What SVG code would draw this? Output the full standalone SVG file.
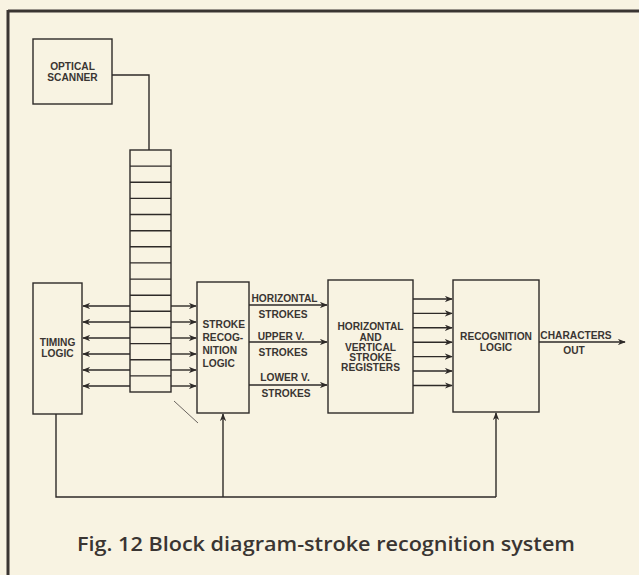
<svg xmlns="http://www.w3.org/2000/svg" width="639" height="575" viewBox="0 0 639 575">
<style>
.box{fill:none;stroke:#2e2a28;stroke-width:1.4}
.ln{fill:none;stroke:#2e2a28;stroke-width:1.4}
.t{font-family:"Liberation Sans",Arial,sans-serif;font-size:10.2px;font-weight:bold;fill:#3a3532}
.c{text-anchor:middle}
.cap{font-family:"Open Sans","Liberation Sans",sans-serif;font-size:19px;font-weight:600;fill:#3a3532}
</style>
<defs>
<marker id="ah" viewBox="0 0 10 8" refX="9" refY="4" markerWidth="8" markerHeight="6.4" markerUnits="userSpaceOnUse" orient="auto">
<path d="M0,0 L10,4 L0,8 L3,4 Z" fill="#2e2a28"/>
</marker>
</defs>
<rect width="639" height="575" fill="#f8f3e2"/>
<g id="frame">
<line x1="8" y1="11" x2="639" y2="11" stroke="#3a3532" stroke-width="3"/>
<line x1="8" y1="10" x2="8" y2="575" stroke="#3a3532" stroke-width="3"/>
</g>
<g id="scanner">
<rect class="box" x="33" y="39" width="79" height="65"/>
<text class="t c" x="72.5" y="69.5">OPTICAL</text>
<text class="t c" x="72.5" y="80.5">SCANNER</text>
</g>
<g id="register">
<rect class="box" x="130" y="150" width="41" height="242"/>
<path class="ln" d="M130,166.1H171M130,182.3H171M130,198.4H171M130,214.5H171M130,230.7H171M130,246.8H171M130,262.9H171M130,279.1H171M130,295.2H171M130,311.3H171M130,327.5H171M130,343.6H171M130,359.7H171M130,375.9H171"/>
</g>
<g id="timing">
<rect class="box" x="33" y="283" width="49" height="131"/>
<text class="t c" x="57.5" y="345.5">TIMING</text>
<text class="t c" x="57.5" y="356.5">LOGIC</text>
</g>
<g id="stroke">
<rect class="box" x="197" y="282" width="52" height="131"/>
<text class="t" x="202.5" y="328">STROKE</text>
<text class="t" x="202.5" y="341">RECOG-</text>
<text class="t" x="202.5" y="354">NITION</text>
<text class="t" x="202.5" y="367">LOGIC</text>
</g>
<g id="registers">
<rect class="box" x="328" y="280" width="85" height="133"/>
<text class="t c" x="370.5" y="330">HORIZONTAL</text>
<text class="t c" x="370.5" y="340.5">AND</text>
<text class="t c" x="370.5" y="350.5">VERTICAL</text>
<text class="t c" x="370.5" y="361">STROKE</text>
<text class="t c" x="370.5" y="371">REGISTERS</text>
</g>
<g id="recognition">
<rect class="box" x="453" y="280" width="86" height="132"/>
<text class="t c" x="496" y="339.5">RECOGNITION</text>
<text class="t c" x="496" y="350.5">LOGIC</text>
</g>
<g id="connectors">
<path class="ln" d="M112,75H149V150"/>
<line class="ln" x1="130" y1="306" x2="83" y2="306" marker-end="url(#ah)"/>
<line class="ln" x1="130" y1="322" x2="83" y2="322" marker-end="url(#ah)"/>
<line class="ln" x1="130" y1="338" x2="83" y2="338" marker-end="url(#ah)"/>
<line class="ln" x1="130" y1="354" x2="83" y2="354" marker-end="url(#ah)"/>
<line class="ln" x1="130" y1="370" x2="83" y2="370" marker-end="url(#ah)"/>
<line class="ln" x1="130" y1="386" x2="83" y2="386" marker-end="url(#ah)"/>
<line class="ln" x1="171" y1="306" x2="196" y2="306" marker-end="url(#ah)"/>
<line class="ln" x1="171" y1="322" x2="196" y2="322" marker-end="url(#ah)"/>
<line class="ln" x1="171" y1="338" x2="196" y2="338" marker-end="url(#ah)"/>
<line class="ln" x1="171" y1="354" x2="196" y2="354" marker-end="url(#ah)"/>
<line class="ln" x1="171" y1="370" x2="196" y2="370" marker-end="url(#ah)"/>
<line class="ln" x1="171" y1="386" x2="196" y2="386" marker-end="url(#ah)"/>
<line x1="174" y1="401" x2="198" y2="423" stroke="#5a5450" stroke-width="0.9"/>
<line class="ln" x1="249" y1="305" x2="327" y2="305" marker-end="url(#ah)"/>
<line class="ln" x1="249" y1="342" x2="327" y2="342" marker-end="url(#ah)"/>
<line class="ln" x1="249" y1="385" x2="327" y2="385" marker-end="url(#ah)"/>
<text class="t" x="251.5" y="301.5">HORIZONTAL</text>
<text class="t c" x="283" y="317.5">STROKES</text>
<text class="t c" x="281" y="340">UPPER V.</text>
<text class="t c" x="283" y="355.5">STROKES</text>
<text class="t c" x="285" y="381">LOWER V.</text>
<text class="t c" x="286" y="396.5">STROKES</text>
<line class="ln" x1="413" y1="299" x2="452" y2="299" marker-end="url(#ah)"/>
<line class="ln" x1="413" y1="313.4" x2="452" y2="313.4" marker-end="url(#ah)"/>
<line class="ln" x1="413" y1="327.8" x2="452" y2="327.8" marker-end="url(#ah)"/>
<line class="ln" x1="413" y1="342.2" x2="452" y2="342.2" marker-end="url(#ah)"/>
<line class="ln" x1="413" y1="356.6" x2="452" y2="356.6" marker-end="url(#ah)"/>
<line class="ln" x1="413" y1="371" x2="452" y2="371" marker-end="url(#ah)"/>
<line class="ln" x1="413" y1="385.5" x2="452" y2="385.5" marker-end="url(#ah)"/>
<line class="ln" x1="539" y1="342" x2="625" y2="342" marker-end="url(#ah)"/>
<text class="t c" x="576" y="338.5">CHARACTERS</text>
<text class="t c" x="574" y="354">OUT</text>
<path class="ln" d="M56,414V497H496"/>
<line class="ln" x1="223" y1="497" x2="223" y2="414" marker-end="url(#ah)"/>
<line class="ln" x1="496" y1="497" x2="496" y2="413" marker-end="url(#ah)"/>
</g>
<text class="cap" x="77" y="551" textLength="498" lengthAdjust="spacingAndGlyphs">Fig. 12 Block diagram-stroke recognition system</text>
</svg>
